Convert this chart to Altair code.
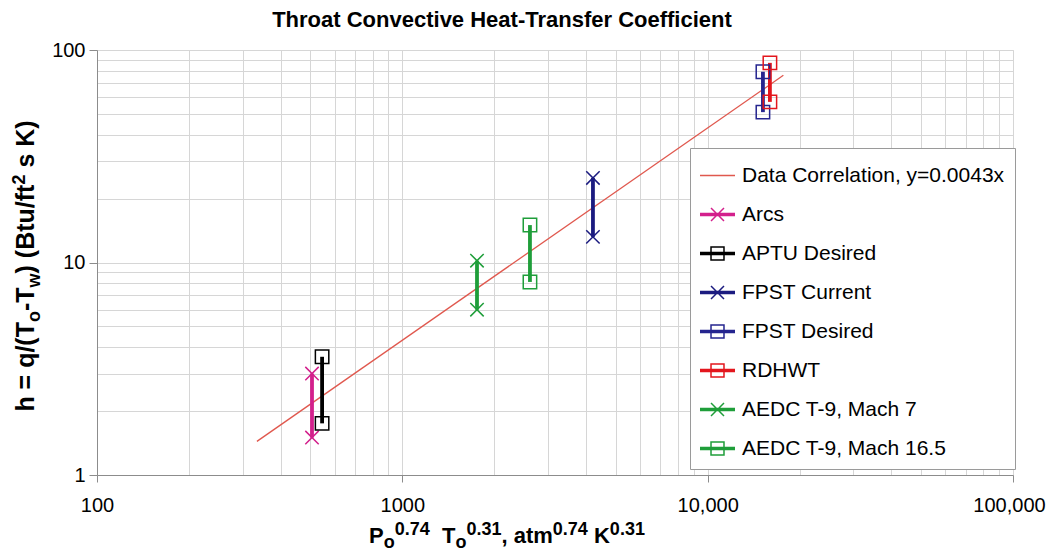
import altair as alt
import pandas as pd

# ---------------- data ----------------
series = ["Arcs", "APTU Desired", "FPST Current", "FPST Desired", "RDHWT",
          "AEDC T-9, Mach 7", "AEDC T-9, Mach 16.5"]
x_pos = [506, 546, 4210, 15170, 15990, 1756, 2618]
h_low = [1.5, 1.75, 13.2, 51, 57, 6.0, 8.1]
h_high = [3.0, 3.6, 25, 79, 87, 10.2, 15]
markers = ["x", "square", "x", "square", "square", "x", "square"]
colors = ["#d3208c", "#000000", "#1b1b80", "#25258f", "#e3161d", "#1f9e3a", "#1f9e3a"]

corr_label = "Data Correlation, y=0.0043x"
corr_x = [334, 17700]
corr_h = [1.44, 76]
corr_color = "#e0584e"

x_major = [100, 1000, 10000, 100000]
x_labels = ["100", "1000", "10,000", "100,000"]
y_major = [1, 10, 100]
y_labels = ["1", "10", "100"]

chart_title = "Throat Convective Heat-Transfer Coefficient"

# ---------------- tables ----------------
seg_df = pd.DataFrame({"series": series, "x": x_pos, "lo": h_low, "hi": h_high})
pts_df = pd.DataFrame({
    "series": series * 2,
    "x": x_pos * 2,
    "h": h_low + h_high,
    "marker": markers * 2,
})
corr_df = pd.DataFrame({"series": [corr_label] * 2, "x": corr_x, "h": corr_h})

x_grid = [m * d for d in (100, 1000, 10000) for m in range(1, 10)] + [100000]
y_grid = [m * d for d in (1, 10) for m in range(1, 10)] + [100]

def label_expr(vals, labs):
    e = "''"
    for v, l in zip(reversed(vals), reversed(labs)):
        e = f"datum.value == {v} ? '{l}' : " + e
    return e

FONT = "Liberation Sans"
GRID = "#d6d6d6"
FRAME = "#8c8c8c"

x_axis = alt.Axis(values=x_grid, labelExpr=label_expr(x_major, x_labels), title=None,
                  grid=True, gridColor=GRID, domainColor=FRAME, tickColor=FRAME,
                  tickSize=7, labelPadding=13, labelFont=FONT, labelFontSize=20,
                  labelColor="black", labelOverlap=False, labelFlush=False, labelBound=False,
                  labelOffset={"condition": {"test": "datum.value == 100000", "value": -4}, "value": 0},
                  tickOpacity={"condition": {"test": "indexof([100,1000,10000,100000], datum.value) >= 0", "value": 1}, "value": 0})
y_axis = alt.Axis(values=y_grid, labelExpr=label_expr(y_major, y_labels), title=None,
                  grid=True, gridColor=GRID, domainColor=FRAME, tickColor=FRAME,
                  tickSize=8, labelPadding=4, labelFont=FONT, labelFontSize=20,
                  labelColor="black", labelOverlap=False, labelFlush=False, labelBound=False,
                  tickOpacity={"condition": {"test": "indexof([1,10,100], datum.value) >= 0", "value": 1}, "value": 0})

x_scale = alt.Scale(type="log", domain=[100, 100000], nice=False)
y_scale = alt.Scale(type="log", domain=[1, 100], nice=False)

# ---------------- legend symbols (filled paths: line + marker) ----------------
LINE = "M-1,-0.1L-1,0.1L1,0.1L1,-0.1Z"
THIN = "M-1,-0.045L-1,0.045L1,0.045L1,-0.045Z"
XM = ("M-0.401,-0.341L0.341,0.401L0.401,0.341L-0.341,-0.401Z"
      "M-0.341,0.401L0.401,-0.341L0.341,-0.401L-0.401,0.341Z")
SQ = ("M-0.414,-0.414L-0.414,0.414L0.414,0.414L0.414,-0.414Z"
      "M-0.328,-0.328L0.328,-0.328L0.328,0.328L-0.328,0.328Z")
x_series = [s for s, m in zip(series, markers) if m == "x"]
x_list = "[" + ",".join("'" + s + "'" for s in x_series) + "]"
shape_expr = (f"datum.value == '{corr_label}' ? '{THIN}' : "
              f"indexof({x_list}, datum.value) >= 0 ? '{LINE + XM}' : '{LINE + SQ}'")

legend = alt.Legend(
    title=None, orient="none", legendX=593, legendY=98,
    fillColor="white", strokeColor="#9a9a9a", padding=10, cornerRadius=0,
    labelFont=FONT, labelFontSize=21, labelColor="black", labelOffset=7, labelLimit=600,
    symbolSize=1225, rowPadding=11, symbolType={"expr": shape_expr},
    symbolStrokeWidth=0, symbolStrokeColor="transparent", symbolOpacity=1,
)
color_scale = alt.Scale(domain=[corr_label] + series, range=[corr_color] + colors)
color_nolegend = alt.Color("series:N", scale=color_scale, legend=None)

X = alt.X("x:Q", scale=x_scale, axis=x_axis)

# hidden layer only used to produce the legend
legend_layer = alt.Chart(corr_df).transform_filter("false").mark_point(
    filled=True, opacity=1, strokeWidth=0).encode(
    x=X, y=alt.Y("h:Q", scale=y_scale, axis=y_axis),
    color=alt.Color("series:N", scale=color_scale, legend=legend))

corr_layer = alt.Chart(corr_df).mark_line(strokeWidth=1.3).encode(
    x=X, y=alt.Y("h:Q", scale=y_scale, axis=y_axis), color=color_nolegend)

seg_layer = alt.Chart(seg_df).mark_rule(strokeWidth=3.8).encode(
    x=X, y=alt.Y("lo:Q", scale=y_scale, axis=y_axis), y2="hi:Q", color=color_nolegend)

XPATH = "M-1,-1L1,1M-1,1L1,-1"
pts_layer = alt.Chart(pts_df).mark_point(filled=False, strokeWidth=1.5, size=180, opacity=1).encode(
    x=X, y=alt.Y("h:Q", scale=y_scale, axis=y_axis), color=color_nolegend,
    shape=alt.Shape("marker:N", scale=alt.Scale(domain=["x", "square"], range=[XPATH, "square"]),
                    legend=None))

# ---------------- titles as text runs (with sub/superscripts) ----------------
BW = {' ': 278, '(': 333, ')': 333, '-': 333, '.': 278, '/': 278, ',': 278, '=': 584,
      'B': 722, 'K': 722, 'P': 667, 'T': 611, 'a': 556, 'f': 333, 'h': 611, 'm': 889,
      'o': 611, 'q': 611, 's': 556, 't': 333, 'u': 611, 'w': 778}

def width(s, size):
    return sum(BW.get(c, 556) for c in s) * size / 1000.0

def layout(runs, main, small):
    out, off = [], 0.0
    for txt, kind in runs:
        size = main if kind == "n" else small
        shift = 0.0 if kind == "n" else (0.22 * main if kind == "sub" else -0.37 * main)
        stripped = txt.lstrip(" ")
        lead = width(txt[:len(txt) - len(stripped)], size)
        out.append((stripped, size, off + lead, shift))
        off += width(txt, size)
    return out, off

def text_layer(txt, size, px, py, angle=0, align="left", baseline="alphabetic"):
    return alt.Chart(pd.DataFrame({"t": [txt]})).mark_text(
        font=FONT, fontWeight="bold", fontSize=size, align=align, baseline=baseline,
        angle=angle, color="black").encode(text="t:N", x=alt.value(px), y=alt.value(py))

OX, OY = 97, 50  # page position of plot origin

texts = [text_layer(chart_title, 22, 502 - OX, 27 - OY, align="center")]

x_title_runs = [("P", "n"), ("o", "sub"), ("0.74", "sup"), ("  T", "n"), ("o", "sub"),
                ("0.31", "sup"), (", atm", "n"), ("0.74", "sup"), (" K", "n"), ("0.31", "sup")]
runs, total = layout(x_title_runs, 22, 18)
x0 = 507 - total / 2
for txt, size, off, shift in runs:
    texts.append(text_layer(txt, size, x0 + off - OX, 543 + shift - OY))

y_title_runs = [("h = q/(T", "n"), ("o", "sub"), ("-T", "n"), ("w", "sub"),
                (") (Btu/ft", "n"), ("2", "sup"), (" s K)", "n")]
runs, total = layout(y_title_runs, 25, 18)
y0 = 266 + total / 2
for txt, size, off, shift in runs:
    texts.append(text_layer(txt, size, 34 + shift - OX, y0 - off - OY, angle=270))

chart = alt.layer(legend_layer, corr_layer, seg_layer, pts_layer, *texts).properties(
    width=916, height=425,
    padding={"left": 89, "top": 42, "right": 34, "bottom": 77},
    autosize=alt.AutoSizeParams(type="none"),
).configure_view(stroke=FRAME, strokeWidth=1).configure(background="white")

chart.save("out.html", embed_options={"renderer": "svg", "actions": False})
